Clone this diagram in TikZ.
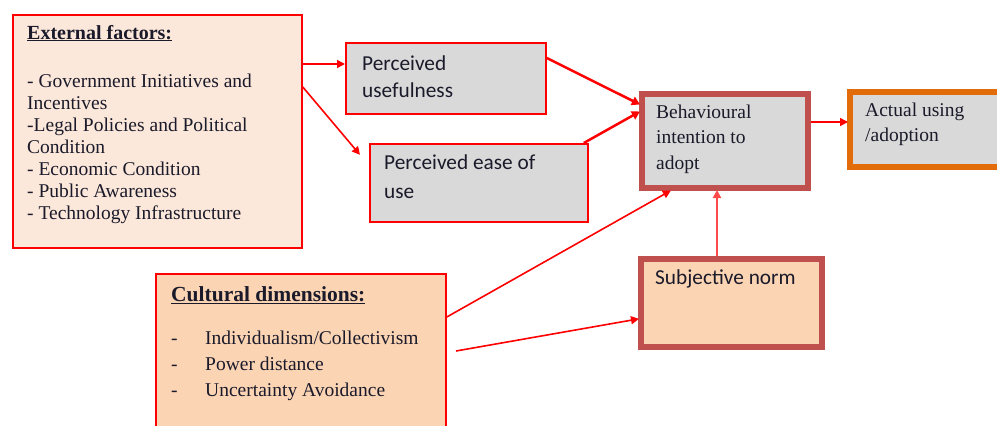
\documentclass[tikz,border=0pt]{standalone}
\usepackage{fontspec}
\setmainfont{Liberation Serif}
\newfontfamily\calib{Carlito}
\usetikzlibrary{arrows.meta}
\definecolor{extfill}{HTML}{FCE8DA}
\definecolor{cultfill}{HTML}{FBD4B4}
\definecolor{greyfill}{HTML}{D9D9D9}
\definecolor{darkred}{HTML}{C0504D}
\definecolor{orangeb}{HTML}{E36C0A}
\definecolor{txt}{HTML}{1A1A2A}
\definecolor{lightred}{HTML}{FF4A4A}
\tikzset{
  redbox/.style={draw=red, line width=1.8pt, rectangle, inner sep=0pt, anchor=north west},
  thickbox/.style={draw=darkred, line width=6pt, rectangle, inner sep=0pt, anchor=north west},
  ser/.style={anchor=base west, inner sep=0pt, text=txt, font=\fontsize{19.5}{22}\selectfont},
  sans/.style={anchor=base west, inner sep=0pt, text=txt, font=\calib\fontsize{21.3}{24}\selectfont},
  head/.style={anchor=base west, inner sep=0pt, text=txt, font=\bfseries\fontsize{20}{24}\selectfont},
  arr/.style={draw=red, line width=1.6pt, -{Triangle[length=8pt,width=8pt]}},
  thickarr/.style={arr, line width=2.5pt, -{Triangle[length=8pt,width=9pt]}}
}
\begin{document}
\begin{tikzpicture}[x=1pt,y=-1pt]
\useasboundingbox (0,0) rectangle (997,426);
\begin{scope}
\clip (0,0) rectangle (997,426);
% boxes
\node[redbox, fill=extfill, minimum width=289pt, minimum height=233pt] (ext) at (12,14) {};
\node[redbox, fill=greyfill, minimum width=200pt, minimum height=71pt] (pu) at (345,42) {};
\node[redbox, fill=greyfill, minimum width=218pt, minimum height=78pt] (peu) at (369,143) {};
\node[thickbox, fill=greyfill, minimum width=166pt, minimum height=94pt] (bi) at (639,91) {};
\node[thickbox, draw=orangeb, fill=greyfill, minimum width=170pt, minimum height=75pt] (au) at (847,89) {};
\node[thickbox, fill=cultfill, minimum width=181pt, minimum height=88pt] (sn) at (638,256) {};
\node[redbox, fill=cultfill, minimum width=290pt, minimum height=167pt] (cd) at (155,273) {};
\end{scope}
% texts
\node[head] (eh) at (27,39) {\underline{External factors:}};
\node[ser] (e1) at (27,87) {- Government Initiatives and};
\node[ser] (e2) at (27,109) {Incentives};
\node[ser] (e3) at (27,131) {-Legal Policies and Political};
\node[ser] (e4) at (27,153) {Condition};
\node[ser] (e5) at (27,175) {- Economic Condition};
\node[ser] (e6) at (27,197) {- Public Awareness};
\node[ser] (e7) at (27,219) {- Technology Infrastructure};
\node[sans] (p1) at (362,70) {Perceived};
\node[sans] (p2) at (362,97) {usefulness};
\node[sans] (q1) at (384,169) {Perceived ease of};
\node[sans] (q2) at (384,198) {use};
\node[ser] (b1) at (656,118) {Behavioural};
\node[ser] (b2) at (656,143.5) {intention to};
\node[ser] (b3) at (656,169) {adopt};
\node[ser] (a1) at (865,116) {Actual using};
\node[ser] (a2) at (865,141) {/adoption};
\node[sans] (s1) at (655,284) {Subjective norm};
\node[head, font=\bfseries\fontsize{21.5}{24}\selectfont] (ch) at (171,301) {\underline{Cultural dimensions:}};
\node[ser] (d1) at (171,344) {-};
\node[ser] (c1) at (205,344) {Individualism/Collectivism};
\node[ser] (d2) at (171,370) {-};
\node[ser] (c2) at (205,370) {Power distance};
\node[ser] (d3) at (171,396) {-};
\node[ser] (c3) at (205,396) {Uncertainty Avoidance};
% connectors
\coordinate (cs) at (456,351);
\draw[arr] (ext.east |- 0,64) -- (pu.west |- 0,64);
\draw[arr, shorten >=14pt] (ext.east |- 0,87) -- (peu.west |- 0,165.5);
\draw[thickarr, shorten >=-1pt] (pu.east |- 0,58) -- (bi.west |- 0,104);
\draw[thickarr, shorten >=-1pt] ([xshift=-5pt]peu.north east) -- (bi.west |- 0,112);
\draw[arr, shorten >=-1pt] (bi.east |- 0,122) -- (au.west |- 0,122);
\draw[arr, draw=lightred, line width=2pt, shorten >=-1pt] (sn.north -| 717,0) -- (bi.south -| 717,0);
\draw[arr, shorten >=-1pt] (cd.east |- 0,317) -- (bi.south -| 670,0);
\draw[arr, shorten >=-1pt] (cs) -- (sn.west |- 0,319);
\end{tikzpicture}
\end{document}
